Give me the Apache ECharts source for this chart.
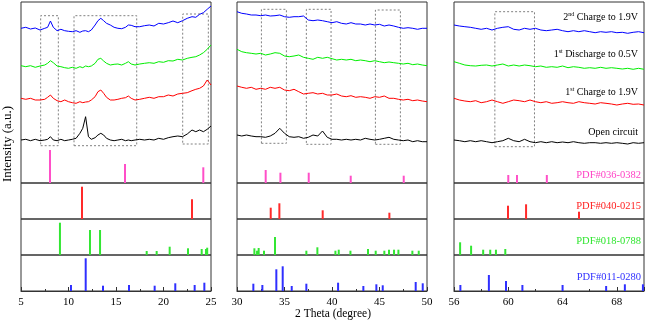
<!DOCTYPE html>
<html>
<head>
<meta charset="utf-8">
<script src="https://cdn.jsdelivr.net/npm/echarts@6.0.0/dist/echarts.min.js"></script>
<style>
  html, body { margin: 0; padding: 0; background: #fff; }
  #xrd { width: 647px; height: 322px; }
</style>
</head>
<body>
<div id="xrd"></div>
<script>
  // 2theta sampling of the measured patterns, one array per panel
  const thetaA = [5.0, 5.5, 6.0, 6.5, 7.0, 7.5, 7.8, 8.1, 8.4, 8.8, 9.2, 9.6, 10.0, 10.4, 10.8, 11.2, 11.5, 11.8, 12.1, 12.4,
    12.8, 13.1, 13.4, 13.7, 14.0, 14.4, 14.8, 15.2, 15.6, 16.0, 16.3, 16.6, 17.0, 17.5, 18.0, 18.5, 19.0, 19.5, 20.0, 20.5,
    21.0, 21.5, 22.0, 22.5, 23.0, 23.4, 23.8, 24.2, 24.6, 25.0]
  const thetaB = [30.0, 30.5, 31.0, 31.5, 32.0, 32.5, 33.0, 33.5, 34.0, 34.5, 35.0, 35.5, 36.0, 36.5, 37.0, 37.5, 38.0, 38.5, 39.0, 39.5,
    40.0, 40.5, 41.0, 41.5, 42.0, 42.5, 43.0, 43.5, 44.0, 44.5, 45.0, 45.5, 46.0, 46.5, 47.0, 47.5, 48.0, 48.5, 49.0, 49.5, 50.0]
  const thetaC = [56.0, 56.4, 56.8, 57.2, 57.6, 58.0, 58.4, 58.8, 59.2, 59.6, 60.0, 60.4, 60.8, 61.2, 61.6, 62.0, 62.4, 62.8,
    63.2, 63.6, 64.0, 64.4, 64.8, 65.2, 65.6, 66.0, 66.4, 66.8, 67.2, 67.6, 68.0, 68.4, 68.8, 69.2, 69.6, 70.0]

  // intensities (a.u., stacked offsets included)
  const charge2A = [154.7, 155.7, 154, 155, 153, 154.7, 155.7, 162, 155.7, 152.3, 153.7, 152.3, 151.7, 151.3, 152.3, 150.7, 152, 152.3, 151.3, 153,
    158, 162.3, 164.7, 162.3, 159.7, 158, 155.7, 154.7, 154.3, 155.7, 158, 157.7, 156.3, 156.3, 157.3, 158, 157, 159.7, 159, 160.3,
    162, 160.3, 162.3, 164.7, 166.3, 165.7, 168.7, 170.3, 173.7, 177]
  const discharge1A = [117.3, 116.3, 117.3, 115.7, 117, 118, 119.7, 122.3, 120.3, 117, 116.3, 115.3, 114.7, 115.7, 114.7, 116.3, 115.3, 117, 116.3, 117,
    119.7, 123.7, 124.7, 122, 119.7, 118, 118.7, 119, 118, 119.7, 121.3, 119, 118, 119, 119.7, 120.3, 119.7, 121.3, 120.7, 122.3,
    122, 123.7, 123, 124.7, 125.7, 126.3, 128, 130.3, 133.7, 138]
  const charge1A = [84.7, 83.7, 84.7, 83, 83, 83.7, 85.7, 88, 84.7, 82.3, 81.3, 83, 81.3, 80.3, 79.7, 81.3, 80.3, 81, 81.3, 83,
    86.3, 91.3, 93, 89.7, 85.7, 83, 83, 83.7, 84.7, 85.3, 87, 84.7, 83, 83.7, 84.7, 85.7, 84.7, 86.3, 86.3, 88,
    87, 89, 89.7, 90.3, 92.3, 93.7, 94.7, 97, 103, 98]
  const openA = [43, 43.7, 42.3, 43.7, 42.3, 43, 43.7, 46.3, 43, 42.3, 43.7, 42.3, 43, 43.7, 44.7, 49.7, 54.7, 66.3, 46.3, 43.7,
    45.3, 48, 49.7, 48, 44.7, 43, 42.3, 43, 43.7, 42.3, 43, 42.3, 43, 43.7, 43, 43.7, 43, 44.7, 43.7, 45.3,
    46.3, 47, 46.3, 49, 53, 51.3, 53, 51.3, 53.7, 57]

  const charge2B = [171.3, 169.7, 169, 168, 168, 167.3, 168, 167, 167.3, 168, 166.3, 165.7, 166.3, 166.3, 167, 163, 162.3, 163, 162.3, 161.3,
    160.3, 161.3, 159.7, 159, 160.3, 159, 159, 158, 159, 158, 158.7, 157, 158, 157, 155.7, 154.7, 155.3, 154.7, 153.7, 154.7, 154.7]
  const discharge1B = [133.7, 131.3, 130.3, 129.7, 129, 129.7, 128, 129, 130.3, 129.7, 127, 126.3, 127, 128, 125.7, 124.7, 123.7, 125.7, 124.7, 125.7,
    124.3, 123, 123.7, 123, 123.7, 122.3, 123, 122.3, 121.3, 122.3, 121.3, 120.3, 121, 120.3, 119.7, 119, 119.7, 118.3, 119, 118, 117.3]
  const charge1B = [97, 95.7, 94.7, 95.7, 93.7, 94.7, 93.7, 95.7, 94.7, 95.7, 93, 92.3, 93.7, 91.3, 89, 89.7, 90.3, 89, 89.7, 88,
    88, 89, 87, 86.3, 87.3, 85.7, 86.3, 85.7, 84.7, 86.3, 85.7, 87, 84.7, 84.7, 83.7, 83, 83.7, 82.3, 83, 82, 81.3]
  const openB = [48, 47, 48, 47, 46.3, 46.3, 45.7, 47, 49.7, 54.7, 49.7, 46.3, 45.7, 46.3, 44.7, 45.7, 48, 47, 52, 45.7,
    43.7, 43.7, 43, 43.7, 43, 43.7, 43, 44.7, 43.7, 43, 43.7, 44.7, 45.7, 43.7, 43, 42.3, 43, 41.3, 42.3, 41.3, 41.3]

  const charge2C = [158, 157, 156.3, 155.7, 154.7, 153.7, 154.7, 153, 154.7, 155.7, 156.3, 153.7, 153, 154.7, 153.7, 154.7, 153, 152.3,
    153, 153.7, 152.3, 151.3, 152.3, 151.3, 152.3, 151.3, 150.3, 151.3, 150.7, 151.3, 150.3, 150.7, 149.7, 150.7, 151.3, 150.3]
  const discharge1C = [121.3, 119.7, 118, 117.3, 117, 117.7, 118, 117, 118, 119, 117, 118, 117, 118, 117.3, 116.3, 117, 115.7,
    116.3, 115.7, 117, 115.3, 116.3, 115.7, 114.7, 115.3, 114.7, 115.7, 114.7, 115.3, 114.7, 114, 114.7, 113.7, 114.7, 113.7]
  const charge1C = [84.7, 83, 82, 81.3, 82.3, 80.3, 81.3, 83, 81.3, 79.7, 81.3, 83, 82.3, 81.3, 83, 81.3, 80.3, 81.3,
    79.7, 80.3, 81.3, 80.3, 79.7, 81.3, 80.3, 79.7, 79, 80.3, 79.7, 79, 78, 79, 79.7, 78.7, 79, 78]
  const openC = [43, 42.3, 41.3, 42.3, 41.3, 42.3, 41.3, 40.3, 41.3, 42.3, 44.7, 42.3, 41.3, 43.7, 41.3, 40.3, 41.3, 40.3,
    41.3, 40.3, 41, 40.3, 41.3, 40.3, 39.7, 40.3, 40.3, 39.7, 40.3, 39.7, 40.3, 39.7, 39, 40.3, 39.7, 40.3]

  // reference stick patterns [2theta, relative height]
  const pdf036 = [[8.05, 33], [15.95, 19], [24.19, 15.7], [33.02, 13], [34.57, 10.3], [37.55, 10.3], [41.97, 7.3], [47.55, 7.3],
    [60.0, 8], [60.64, 8], [62.84, 8]]
  const pdf040 = [[11.42, 32.3], [23.0, 19.7], [33.55, 11.3], [34.46, 15.7], [39.02, 8.7], [46.04, 6.3],
    [59.98, 13.3], [61.31, 14.7], [65.21, 7.3]]
  const pdf018 = [[9.1, 32.3], [12.26, 25], [13.32, 25], [18.23, 4], [19.28, 4], [20.65, 8.3], [22.58, 6.7], [24.02, 6], [24.47, 6], [24.6, 7.3],
    [31.83, 6.7], [32.11, 4.3], [32.28, 7], [32.84, 4.3], [34.0, 18], [37.3, 4.3], [38.46, 7.7], [40.36, 4.3], [40.71, 5.3], [41.94, 4.3],
    [43.79, 6], [44.6, 4.3], [45.51, 4.3], [46.0, 5.3], [46.53, 5.3], [46.99, 5.3], [48.46, 4.3], [49.13, 4.3],
    [56.45, 12.7], [57.26, 9.3], [58.15, 5.3], [58.67, 5.3], [59.09, 5.3], [59.78, 6]]
  const pdf011 = [[10.26, 6], [11.81, 32.7], [13.63, 5.3], [16.37, 6], [19.07, 5.3], [21.24, 7.7], [23.28, 6], [24.3, 8.3],
    [31.72, 7.3], [32.67, 6], [34.14, 21.7], [34.81, 24.7], [35.76, 5], [37.3, 7.3], [40.64, 8.3], [43.3, 5], [44.67, 6.7],
    [45.34, 5.7], [48.81, 9], [49.55, 7.7],
    [56.47, 6], [58.57, 16], [59.83, 10], [61.04, 6], [64.0, 6], [67.21, 5], [68.59, 6.7], [69.92, 6.7]]

  // dotted highlight boxes [x1, x2, y1, y2]
  const boxes = [[7.07, 8.93, 37.3, 167.3], [10.58, 17.18, 37.3, 167.3], [22.02, 24.72, 39, 169],
    [32.57, 35.2, 39.7, 173.7], [37.3, 39.9, 38.7, 173.7], [44.57, 47.2, 38.7, 173], [59.01, 61.93, 36.3, 171.3]]

  const serif = 'Liberation Serif'
  const panels = [
    { min: 5, max: 25, interval: 5, left: 21, maxLabel: true, theta: thetaA, curves: [openA, charge1A, discharge1A, charge2A] },
    { min: 30, max: 50, interval: 5, left: 237, maxLabel: true, theta: thetaB, curves: [openB, charge1B, discharge1B, charge2B] },
    { min: 56, max: 70, interval: 4, left: 454, maxLabel: false, theta: thetaC, curves: [openC, charge1C, discharge1C, charge2C] }
  ]
  const rows = [
    { top: 2, height: 181 },
    { top: 183, height: 36 },
    { top: 219, height: 36 },
    { top: 255, height: 36 }
  ]
  const curveColors = ['#000000', '#ff0000', '#00ee00', '#0000ff']
  const sticks = [
    { data: pdf036, color: '#ff4fc8', row: 0 },
    { data: pdf040, color: '#ff2a2a', row: 1 },
    { data: pdf018, color: '#33e633', row: 2 },
    { data: pdf011, color: '#2f2fff', row: 3 }
  ]

  const grid = [], xAxis = [], yAxis = [], series = []
  panels.forEach((p, pi) => {
    rows.forEach((r, ri) => {
      grid.push({
        left: p.left, top: r.top, width: 190, height: r.height,
        outerBoundsMode: 'none', containLabel: false,
        show: true, borderColor: '#333', borderWidth: 1
      })
      const bottom = ri === 3
      xAxis.push({
        type: 'value', gridIndex: pi * 4 + ri, min: p.min, max: p.max, interval: p.interval,
        show: bottom,
        axisLine: { show: true, lineStyle: { color: '#333' } },
        axisTick: { inside: true, length: 4, lineStyle: { color: '#333' } },
        minorTick: { show: true, splitNumber: 2, length: 2, lineStyle: { color: '#333' } },
        splitLine: { show: false },
        axisLabel: { color: '#000', fontFamily: serif, fontSize: 11, margin: 6, showMaxLabel: p.maxLabel }
      })
      yAxis.push({ type: 'value', gridIndex: pi * 4 + ri, min: 0, max: r.height, show: false })
    })

    p.curves.forEach((c, ci) => {
      const s = {
        type: 'line', xAxisIndex: pi * 4, yAxisIndex: pi * 4,
        data: p.theta.map((t, i) => [t, c[i]]),
        showSymbol: false, symbol: 'none', silent: true,
        lineStyle: { width: 1, color: curveColors[ci] }, z: 3
      }
      if (ci === 0) {
        s.markArea = {
          silent: true,
          itemStyle: { color: 'rgba(0,0,0,0)', borderColor: '#808080', borderWidth: 1, borderType: [2, 2] },
          data: boxes.filter(b => b[0] >= p.min && b[1] <= p.max)
            .map(b => [{ coord: [b[0], b[2]] }, { coord: [b[1], b[3]] }])
        }
      }
      series.push(s)
    })

    sticks.forEach(st => {
      series.push({
        type: 'bar', xAxisIndex: pi * 4 + st.row, yAxisIndex: pi * 4 + st.row,
        data: st.data.filter(d => d[0] >= p.min && d[0] <= p.max),
        barWidth: 2, silent: true, itemStyle: { color: st.color }
      })
    })
  })

  const supRich = {
    n: { fontSize: 10, fontFamily: serif, fill: '#000', lineHeight: 12 },
    s: { fontSize: 6, fontFamily: serif, fill: '#000', verticalAlign: 'top', lineHeight: 12 }
  }
  function txt (text, x, y, color, size, rich) {
    return {
      type: 'text', x: x, y: y, silent: true,
      style: {
        text: text, fill: color, fontSize: size, fontFamily: serif,
        align: 'right', verticalAlign: 'middle', textAlign: 'right', textVerticalAlign: 'middle', rich: rich
      }
    }
  }

  const graphic = [
    txt('{n|2}{s|nd}{n| Charge to 1.9V}', 638, 17, '#000', 10, supRich),
    txt('{n|1}{s|st}{n| Discharge to 0.5V}', 638, 54, '#000', 10, supRich),
    txt('{n|1}{s|st}{n| Charge to 1.9V}', 638, 92, '#000', 10, supRich),
    txt('Open circuit', 638, 132, '#000', 10),
    txt('PDF#036-0382', 641, 175, '#ff3fc4', 10.5),
    txt('PDF#040-0215', 641, 206, '#ff2020', 10.5),
    txt('PDF#018-0788', 641, 241, '#2ee62e', 10.5),
    txt('PDF#011-0280', 641, 277, '#2f2fff', 10.5),
    {
      type: 'text', x: 8, y: 144, rotation: Math.PI / 2, silent: true,
      style: { text: 'Intensity (a.u.)', fill: '#000', fontSize: 13, fontFamily: serif,
        align: 'center', verticalAlign: 'middle', textAlign: 'center', textVerticalAlign: 'middle' }
    },
    {
      type: 'text', x: 333, y: 314, silent: true,
      style: { text: '2 Theta (degree)', fill: '#000', fontSize: 11.5, fontFamily: serif,
        align: 'center', verticalAlign: 'middle', textAlign: 'center', textVerticalAlign: 'middle' }
    }
  ]

  const chart = echarts.init(document.getElementById('xrd'))
  chart.setOption({
    animation: false,
    backgroundColor: '#fff',
    grid: grid,
    xAxis: xAxis,
    yAxis: yAxis,
    series: series,
    graphic: graphic
  })
</script>
</body>
</html>
